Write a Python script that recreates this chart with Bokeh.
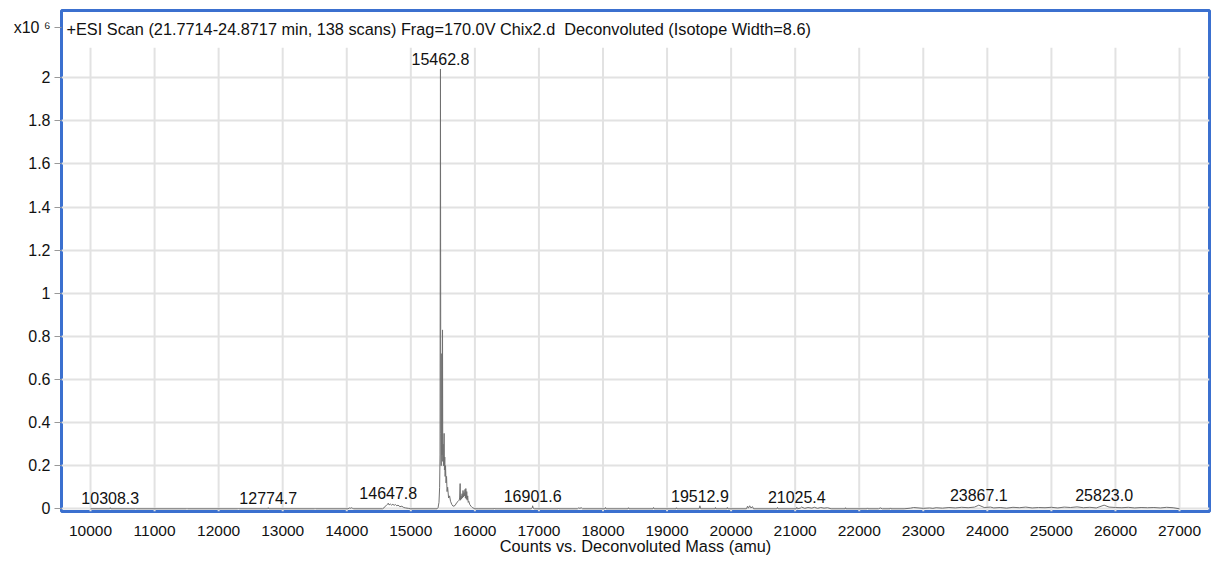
from bokeh.plotting import figure
from bokeh.models import FixedTicker, NumeralTickFormatter, Label, Range1d, ColumnDataSource
from bokeh.embed import file_html
from bokeh.resources import INLINE
from bokeh.core.properties import value

# ---- data (mass in amu, counts in units of 1e6) ----
low_mass_region = [
    (10000, 0), (10300, 0), (10308.3, 0.005), (10316, 0),
    (10700, 0), (10706, 0.002), (10712, 0),
    (11500, 0), (11506, 0.002), (11512, 0),
    (12300, 0), (12306, 0.002), (12312, 0),
    (12766, 0), (12774.7, 0.005), (12782, 0),
    (13500, 0), (13506, 0.002), (13512, 0),
    (14020, 0), (14040, 0.004), (14055, 0.002), (14070, 0.005), (14090, 0.002), (14110, 0),
    (14560, 0), (14580, 0.004), (14600, 0.012), (14620, 0.016), (14635, 0.02),
    (14647.8, 0.026), (14660, 0.018), (14680, 0.022), (14700, 0.017), (14720, 0.021),
    (14740, 0.016), (14760, 0.02), (14780, 0.014), (14800, 0.017), (14830, 0.01),
    (14860, 0.012), (14890, 0.006), (14920, 0.004), (14960, 0.002), (15000, 0), (15410, 0),
]

main_peak_region = [
    (15425, 0.005), (15440, 0.03), (15450, 0.1), (15456, 0.25), (15462.8, 2.04),
    (15468, 0.35), (15474, 0.2), (15480, 0.3), (15484, 0.72), (15488, 0.25),
    (15492, 0.4), (15495, 0.83), (15499, 0.22), (15504, 0.3), (15510, 0.2),
    (15515, 0.26), (15520, 0.35), (15525, 0.18), (15530, 0.24), (15536, 0.15),
    (15542, 0.2), (15550, 0.12), (15558, 0.15), (15566, 0.08), (15575, 0.1),
    (15590, 0.05), (15605, 0.06), (15620, 0.035), (15640, 0.02), (15660, 0.012),
    (15690, 0.015), (15720, 0.03), (15740, 0.035), (15755, 0.04), (15762, 0.05),
    (15770, 0.117), (15776, 0.04), (15784, 0.06), (15792, 0.045), (15800, 0.07),
    (15808, 0.05), (15815, 0.085), (15822, 0.055), (15830, 0.075), (15838, 0.06),
    (15846, 0.09), (15852, 0.05), (15859, 0.094), (15866, 0.045), (15873, 0.08),
    (15880, 0.04), (15888, 0.06), (15896, 0.03), (15905, 0.035), (15920, 0.02),
    (15940, 0.012), (15960, 0.006), (15985, 0.002), (16000, 0),
]

high_mass_region = [
    (16050, 0), (16300, 0), (16306, 0.003), (16312, 0),
    (16880, 0), (16895, 0.004), (16901.6, 0.014), (16910, 0.003), (16925, 0),
    (17300, 0), (17306, 0.003), (17312, 0),
    (17600, 0), (17620, 0.004), (17640, 0.002), (17660, 0.005), (17680, 0),
    (18030, 0), (18039, 0.006), (18048, 0),
    (18390, 0), (18398, 0.005), (18406, 0),
    (18780, 0), (18789, 0.006), (18798, 0),
    (19140, 0), (19147, 0.005), (19154, 0),
    (19500, 0), (19512.9, 0.014), (19525, 0),
    (19750, 0), (19756, 0.006), (19762, 0),
    (19935, 0), (19942, 0.006), (19949, 0),
    (20240, 0), (20256, 0.012), (20270, 0.003), (20290, 0.014), (20310, 0.004), (20334, 0.01), (20350, 0),
    (20715, 0), (20724, 0.006), (20733, 0),
    (21015, 0), (21025.4, 0.007), (21035, 0),
    (21080, 0.003), (21100, 0.008), (21150, 0.002), (21200, 0.006), (21260, 0.003),
    (21300, 0.007), (21350, 0.002), (21400, 0.006), (21450, 0.003), (21505, 0.005), (21560, 0),
    (21780, 0), (21786, 0.005), (21792, 0),
    (22120, 0), (22129, 0.004), (22138, 0),
    (22300, 0), (22330, 0.004), (22360, 0),
    (22480, 0), (22488, 0.004), (22496, 0),
    (22700, 0), (22800, 0.003), (22850, 0.006), (23000, 0.002), (23100, 0.004),
    (23150, 0.002), (23200, 0.005), (23300, 0.003), (23400, 0.006), (23500, 0.004),
    (23600, 0.007), (23700, 0.005), (23800, 0.008), (23867.1, 0.017), (23950, 0.006),
    (24050, 0.008), (24100, 0.004), (24200, 0.006), (24300, 0.003), (24400, 0.007),
    (24500, 0.005), (24600, 0.008), (24700, 0.004), (24800, 0.006), (24900, 0.005),
    (25000, 0.007), (25100, 0.004), (25200, 0.008), (25300, 0.006), (25400, 0.009),
    (25500, 0.005), (25600, 0.007), (25700, 0.004), (25823.0, 0.017), (25900, 0.008),
    (26000, 0.006), (26100, 0.005), (26200, 0.007), (26300, 0.004), (26400, 0.006),
    (26500, 0.005), (26600, 0.006), (26700, 0.004), (26800, 0.007), (26900, 0.005), (27000, 0),
]

label_mass = [10308.3, 12774.7, 14647.8, 15462.8, 16901.6, 19512.9, 21025.4, 23867.1, 25823.0]
label_height = [0.005, 0.005, 0.026, 2.04, 0.014, 0.014, 0.007, 0.017, 0.017]

x_ticks = [10000, 11000, 12000, 13000, 14000, 15000, 16000, 17000, 18000,
           19000, 20000, 21000, 22000, 23000, 24000, 25000, 26000, 27000]
y_ticks = [0, 0.2, 0.4, 0.6, 0.8, 1.0, 1.2, 1.4, 1.6, 1.8, 2.0]
scale_label = "x10 \u2076"

title_text = "+ESI Scan (21.7714-24.8717 min, 138 scans) Frag=170.0V Chix2.d\u00a0 Deconvoluted (Isotope Width=8.6)"
x_label = "Counts vs. Deconvoluted Mass (amu)"

# ---- build ----
points = low_mass_region + main_peak_region + high_mass_region
mass = [m for m, _ in points]
counts = [c for _, c in points]

FONT = "Liberation Sans"
X_START, X_END = 9547, 27468
Y_START, Y_END = -0.0125, 2.312
GRID_TOP = 2.139
SCALE_LABEL_Y = 2.235
BLUE = "#3b70cf"
GRID = "#e2e2e2"
TXT = "#111111"

p = figure(width=1211, height=563, output_backend="svg", toolbar_location=None,
           x_range=Range1d(X_START, X_END), y_range=Range1d(Y_START, Y_END),
           min_border_left=61, min_border_right=2, min_border_top=10, min_border_bottom=52)

p.outline_line_color = BLUE
p.outline_line_width = 3
p.outline_line_alpha = 1.0
p.background_fill_color = "white"
p.border_fill_color = "white"

# grids
p.xgrid.visible = False
p.ygrid.ticker = FixedTicker(ticks=y_ticks)
p.ygrid.grid_line_color = GRID
p.ygrid.grid_line_width = 2

p.segment(x0=x_ticks, y0=[Y_START] * len(x_ticks), x1=x_ticks, y1=[GRID_TOP] * len(x_ticks),
          line_color=GRID, line_width=2)

# spectrum
src = ColumnDataSource(dict(mass=mass, counts=counts))
p.line("mass", "counts", source=src, line_color="#707070", line_width=1)

# peak labels
lab_src = ColumnDataSource(dict(x=label_mass, y=label_height,
                                t=[f"{m:.1f}" for m in label_mass]))
p.text("x", "y", text="t", source=lab_src, text_font=value(FONT), text_font_size="16px",
       text_align="center", text_baseline="alphabetic", y_offset=-10, text_color=TXT)

# axes
xa = p.xaxis[0]
xa.ticker = FixedTicker(ticks=x_ticks)
xa.axis_line_color = None
xa.major_tick_line_color = None
xa.minor_tick_line_color = None
xa.major_tick_out = 0
xa.major_tick_in = 0
xa.major_label_standoff = 14
xa.major_label_text_font = FONT
xa.major_label_text_font_size = "15.5px"
xa.major_label_text_color = TXT
xa.axis_label = x_label
xa.axis_label_text_font = FONT
xa.axis_label_text_font_size = "16.3px"
xa.axis_label_text_font_style = "normal"
xa.axis_label_text_color = TXT
xa.axis_label_standoff = -2

ya = p.yaxis[0]
ya.ticker = FixedTicker(ticks=y_ticks + [SCALE_LABEL_Y])
ya.formatter = NumeralTickFormatter(format="0.[0]")
ya.major_label_overrides = {SCALE_LABEL_Y: scale_label}
ya.axis_line_color = None
ya.major_tick_line_color = "#999999"
ya.major_tick_out = 7
ya.major_tick_in = 0
ya.minor_tick_line_color = None
ya.major_label_standoff = 4
ya.major_label_text_font = FONT
ya.major_label_text_font_size = "16px"
ya.major_label_text_color = TXT

# title inside the box
p.add_layout(Label(x=9625, y=2.227, text=title_text, text_font=FONT, text_font_size="16.3px",
                   text_baseline="alphabetic", text_align="left", text_color=TXT))

open("out.html", "w").write(file_html(p, INLINE))
